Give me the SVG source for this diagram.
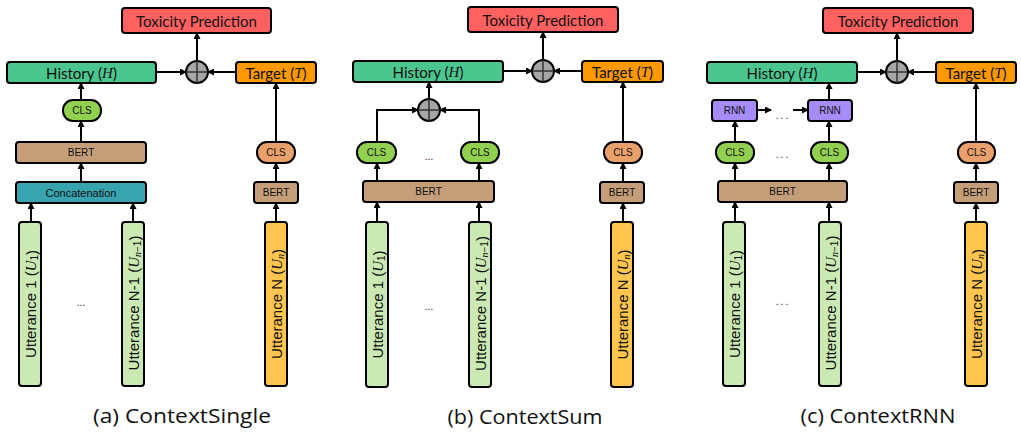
<svg xmlns="http://www.w3.org/2000/svg" width="1021" height="435" viewBox="0 0 1021 435">
<defs>
<marker id="ah" markerWidth="7" markerHeight="7" refX="6" refY="3.5" orient="auto" markerUnits="userSpaceOnUse">
<path d="M0,0 L7,3.5 L0,7 z" fill="#000"/>
</marker>
<g id="plus">
<circle r="11" fill="#a6a6a6" stroke="#000" stroke-width="2"/>
<path d="M-11,0 H11 M0,-11 V11" stroke="#333" stroke-width="1.5"/>
</g>
</defs>
<style>
.b{stroke:#000;stroke-width:2;}
.tox{fill:#ff6161;}
.hist{fill:#4cc68f;}
.tgt{fill:#ff9900;}
.clsg{fill:#92d050;}
.clso{fill:#e9a06b;}
.bert{fill:#c49e78;}
.cat{fill:#37a4b0;}
.rnn{fill:#a68cf8;}
.u{fill:#cbe9b3;}
.un{fill:#ffc54e;}
.big{font-family:Lato,"Liberation Sans",sans-serif;font-size:15px;fill:#111;text-anchor:middle;dominant-baseline:central;}
.math{font-family:"Liberation Serif",serif;font-style:italic;}
.sm{font-family:"Liberation Sans",Arial,sans-serif;font-size:10px;fill:#111;text-anchor:middle;dominant-baseline:central;}
.ut{font-family:"Liberation Sans",Arial,sans-serif;font-size:15px;fill:#111;text-anchor:middle;dominant-baseline:central;}
.dots{font-family:"Liberation Sans",Arial,sans-serif;font-size:10px;fill:#111;text-anchor:middle;}
.cap{font-family:"Open Sans","Noto Sans",sans-serif;font-size:20.5px;fill:#111;text-anchor:middle;}
.c{fill:none;stroke:#000;stroke-width:2;marker-end:url(#ah);}
</style>
<rect width="1021" height="435" fill="#fff"/>

<!-- Panel A -->
<g id="a-tox"><rect class="b tox" x="122" y="8" width="149" height="25" rx="3"/><text class="big" x="196.5" y="20.5">Toxicity Prediction</text></g>
<g id="a-hist"><rect class="b hist" x="7" y="62" width="149" height="21" rx="3"/><text class="big" x="81.5" y="72.5">History (<tspan class="math">H</tspan>)</text></g>
<g id="a-tgt"><rect class="b tgt" x="236" y="62" width="80" height="21" rx="3"/><text class="big" x="276" y="72.5">Target (<tspan class="math">T</tspan>)</text></g>
<g id="a-plus"><use href="#plus" x="197" y="72"/></g>
<g id="a-cls"><rect class="b clsg" x="63" y="100" width="38" height="21" rx="10"/><text class="sm" x="82" y="110.5">CLS</text></g>
<g id="a-bert"><rect class="b bert" x="16" y="142" width="130" height="21" rx="3"/><text class="sm" x="81" y="152.5">BERT</text></g>
<g id="a-cat"><rect class="b cat" x="16" y="182" width="130" height="21" rx="3"/><text class="sm" style="font-size:11px" x="81" y="192.5">Concatenation</text></g>
<g id="a-clso"><rect class="b clso" x="257" y="142" width="38" height="21" rx="10"/><text class="sm" x="276" y="152.5">CLS</text></g>
<g id="a-bert2"><rect class="b bert" x="254" y="182" width="44" height="21" rx="3"/><text class="sm" x="276" y="192.5">BERT</text></g>
<g id="a-u1"><rect class="b u" x="19" y="222" width="22" height="164" rx="3"/><text class="ut" transform="translate(30.5,304) rotate(-90)">Utterance 1 (<tspan class="math">U</tspan><tspan dy="3" font-size="10">1</tspan><tspan dy="-3">)</tspan></text></g>
<g id="a-un1"><rect class="b u" x="122" y="222" width="22" height="164" rx="3"/><text class="ut" transform="translate(133.5,303) rotate(-90)">Utterance N-1 (<tspan class="math">U</tspan><tspan dy="3" font-size="10"><tspan class="math">n</tspan>−1</tspan><tspan dy="-3">)</tspan></text></g>
<g id="a-un"><rect class="b un" x="265" y="222" width="22" height="164" rx="3"/><text class="ut" transform="translate(276.5,304) rotate(-90)">Utterance N (<tspan class="math">U</tspan><tspan dy="3" font-size="10" class="math">n</tspan><tspan dy="-3">)</tspan></text></g>
<text class="dots" x="81" y="306">...</text>
<text class="cap" x="182" y="423" textLength="178" lengthAdjust="spacingAndGlyphs">(a) ContextSingle</text>

<!-- Panel B -->
<g id="b-tox"><rect class="b tox" x="468" y="7" width="150" height="25" rx="3"/><text class="big" x="543" y="19.5">Toxicity Prediction</text></g>
<g id="b-hist"><rect class="b hist" x="353" y="61" width="150" height="21" rx="3"/><text class="big" x="428" y="71.5">History (<tspan class="math">H</tspan>)</text></g>
<g id="b-tgt"><rect class="b tgt" x="582" y="61" width="81" height="21" rx="3"/><text class="big" x="622.5" y="71.5">Target (<tspan class="math">T</tspan>)</text></g>
<g id="b-plus"><use href="#plus" x="543" y="71"/></g>
<g id="b-plus2"><use href="#plus" x="429" y="110"/></g>
<g id="b-cls1"><rect class="b clsg" x="357" y="142" width="39" height="21" rx="10"/><text class="sm" x="376.5" y="152.5">CLS</text></g>
<g id="b-cls2"><rect class="b clsg" x="461" y="142" width="38" height="21" rx="10"/><text class="sm" x="480" y="152.5">CLS</text></g>
<g id="b-bert"><rect class="b bert" x="363" y="181" width="131" height="21" rx="3"/><text class="sm" x="428.5" y="191.5">BERT</text></g>
<g id="b-clso"><rect class="b clso" x="604" y="142" width="38" height="21" rx="10"/><text class="sm" x="623" y="152.5">CLS</text></g>
<g id="b-bert2"><rect class="b bert" x="600" y="182" width="44" height="21" rx="3"/><text class="sm" x="622" y="192.5">BERT</text></g>
<g id="b-u1"><rect class="b u" x="366" y="222" width="22" height="165" rx="3"/><text class="ut" transform="translate(377.5,304.5) rotate(-90)">Utterance 1 (<tspan class="math">U</tspan><tspan dy="3" font-size="10">1</tspan><tspan dy="-3">)</tspan></text></g>
<g id="b-un1"><rect class="b u" x="469" y="222" width="22" height="165" rx="3"/><text class="ut" transform="translate(480.5,303.5) rotate(-90)">Utterance N-1 (<tspan class="math">U</tspan><tspan dy="3" font-size="10"><tspan class="math">n</tspan>−1</tspan><tspan dy="-3">)</tspan></text></g>
<g id="b-un"><rect class="b un" x="611" y="222" width="22" height="165" rx="3"/><text class="ut" transform="translate(622.5,304.5) rotate(-90)">Utterance N (<tspan class="math">U</tspan><tspan dy="3" font-size="10" class="math">n</tspan><tspan dy="-3">)</tspan></text></g>
<text class="dots" x="429" y="160">...</text>
<text class="dots" x="429" y="310">...</text>
<text class="cap" x="525" y="424" textLength="155" lengthAdjust="spacingAndGlyphs">(b) ContextSum</text>

<!-- Panel C -->
<g id="c-tox"><rect class="b tox" x="823" y="8" width="150" height="25" rx="3"/><text class="big" x="898" y="20.5">Toxicity Prediction</text></g>
<g id="c-hist"><rect class="b hist" x="707" y="62" width="150" height="21" rx="3"/><text class="big" x="782" y="72.5">History (<tspan class="math">H</tspan>)</text></g>
<g id="c-tgt"><rect class="b tgt" x="936" y="62" width="80" height="21" rx="3"/><text class="big" x="976" y="72.5">Target (<tspan class="math">T</tspan>)</text></g>
<g id="c-plus"><use href="#plus" x="897" y="72"/></g>
<g id="c-rnn1"><rect class="b rnn" x="712" y="100" width="45" height="21" rx="3"/><text class="sm" x="734.5" y="110.5">RNN</text></g>
<g id="c-rnn2"><rect class="b rnn" x="808" y="100" width="44" height="21" rx="3"/><text class="sm" x="830" y="110.5">RNN</text></g>
<g id="c-cls1"><rect class="b clsg" x="716" y="142" width="38" height="21" rx="10"/><text class="sm" x="735" y="152.5">CLS</text></g>
<g id="c-cls2"><rect class="b clsg" x="811" y="142" width="37" height="21" rx="10"/><text class="sm" x="829.5" y="152.5">CLS</text></g>
<g id="c-bert"><rect class="b bert" x="718" y="181" width="129" height="21" rx="3"/><text class="sm" x="782.5" y="191.5">BERT</text></g>
<g id="c-clso"><rect class="b clso" x="958" y="142" width="37" height="21" rx="10"/><text class="sm" x="976.5" y="152.5">CLS</text></g>
<g id="c-bert2"><rect class="b bert" x="954" y="182" width="44" height="21" rx="3"/><text class="sm" x="976" y="192.5">BERT</text></g>
<g id="c-u1"><rect class="b u" x="723" y="222" width="22" height="164" rx="3"/><text class="ut" transform="translate(734.5,304) rotate(-90)">Utterance 1 (<tspan class="math">U</tspan><tspan dy="3" font-size="10">1</tspan><tspan dy="-3">)</tspan></text></g>
<g id="c-un1"><rect class="b u" x="819" y="222" width="22" height="164" rx="3"/><text class="ut" transform="translate(830.5,303) rotate(-90)">Utterance N-1 (<tspan class="math">U</tspan><tspan dy="3" font-size="10"><tspan class="math">n</tspan>−1</tspan><tspan dy="-3">)</tspan></text></g>
<g id="c-un"><rect class="b un" x="965" y="222" width="22" height="164" rx="3"/><text class="ut" transform="translate(976.5,304) rotate(-90)">Utterance N (<tspan class="math">U</tspan><tspan dy="3" font-size="10" class="math">n</tspan><tspan dy="-3">)</tspan></text></g>
<text class="dots" x="783" y="119" letter-spacing="2">...</text>
<text class="dots" x="783" y="158" letter-spacing="2">...</text>
<text class="dots" x="783" y="305" letter-spacing="2">...</text>
<text class="cap" x="878" y="423" textLength="155" lengthAdjust="spacingAndGlyphs">(c) ContextRNN</text>

<g id="connectors">
<path class="c" d="M31,222 V203"/>
<path class="c" d="M133,222 V203"/>
<path class="c" d="M81,182 V163"/>
<path class="c" d="M81,142 V121"/>
<path class="c" d="M81,100 V83"/>
<path class="c" d="M157,72 H186"/>
<path class="c" d="M236,72 H208"/>
<path class="c" d="M197,61 V33"/>
<path class="c" d="M276,222 V203"/>
<path class="c" d="M276,182 V163"/>
<path class="c" d="M276,142 V83"/>

<path class="c" d="M377,222 V202"/>
<path class="c" d="M479,222 V202"/>
<path class="c" d="M623,222 V203"/>
<path class="c" d="M377,181 V163"/>
<path class="c" d="M479,181 V163"/>
<path class="c" d="M377,142 V110 H418"/>
<path class="c" d="M479,142 V110 H440"/>
<path class="c" d="M429,99 V82"/>
<path class="c" d="M503,71 H532"/>
<path class="c" d="M582,71 H554"/>
<path class="c" d="M543,60 V32"/>
<path class="c" d="M623,182 V163"/>
<path class="c" d="M623,142 V82"/>

<path class="c" d="M735,222 V202"/>
<path class="c" d="M829,222 V202"/>
<path class="c" d="M976,222 V203"/>
<path class="c" d="M735,181 V163"/>
<path class="c" d="M829,181 V163"/>
<path class="c" d="M735,142 V121"/>
<path class="c" d="M829,142 V121"/>
<path class="c" d="M757,110 H771"/>
<path class="c" d="M793,110 H808"/>
<path class="c" d="M829,100 V83"/>
<path class="c" d="M857,72 H886"/>
<path class="c" d="M936,72 H908"/>
<path class="c" d="M897,61 V33"/>
<path class="c" d="M976,182 V163"/>
<path class="c" d="M976,142 V83"/>
</g>
</svg>
